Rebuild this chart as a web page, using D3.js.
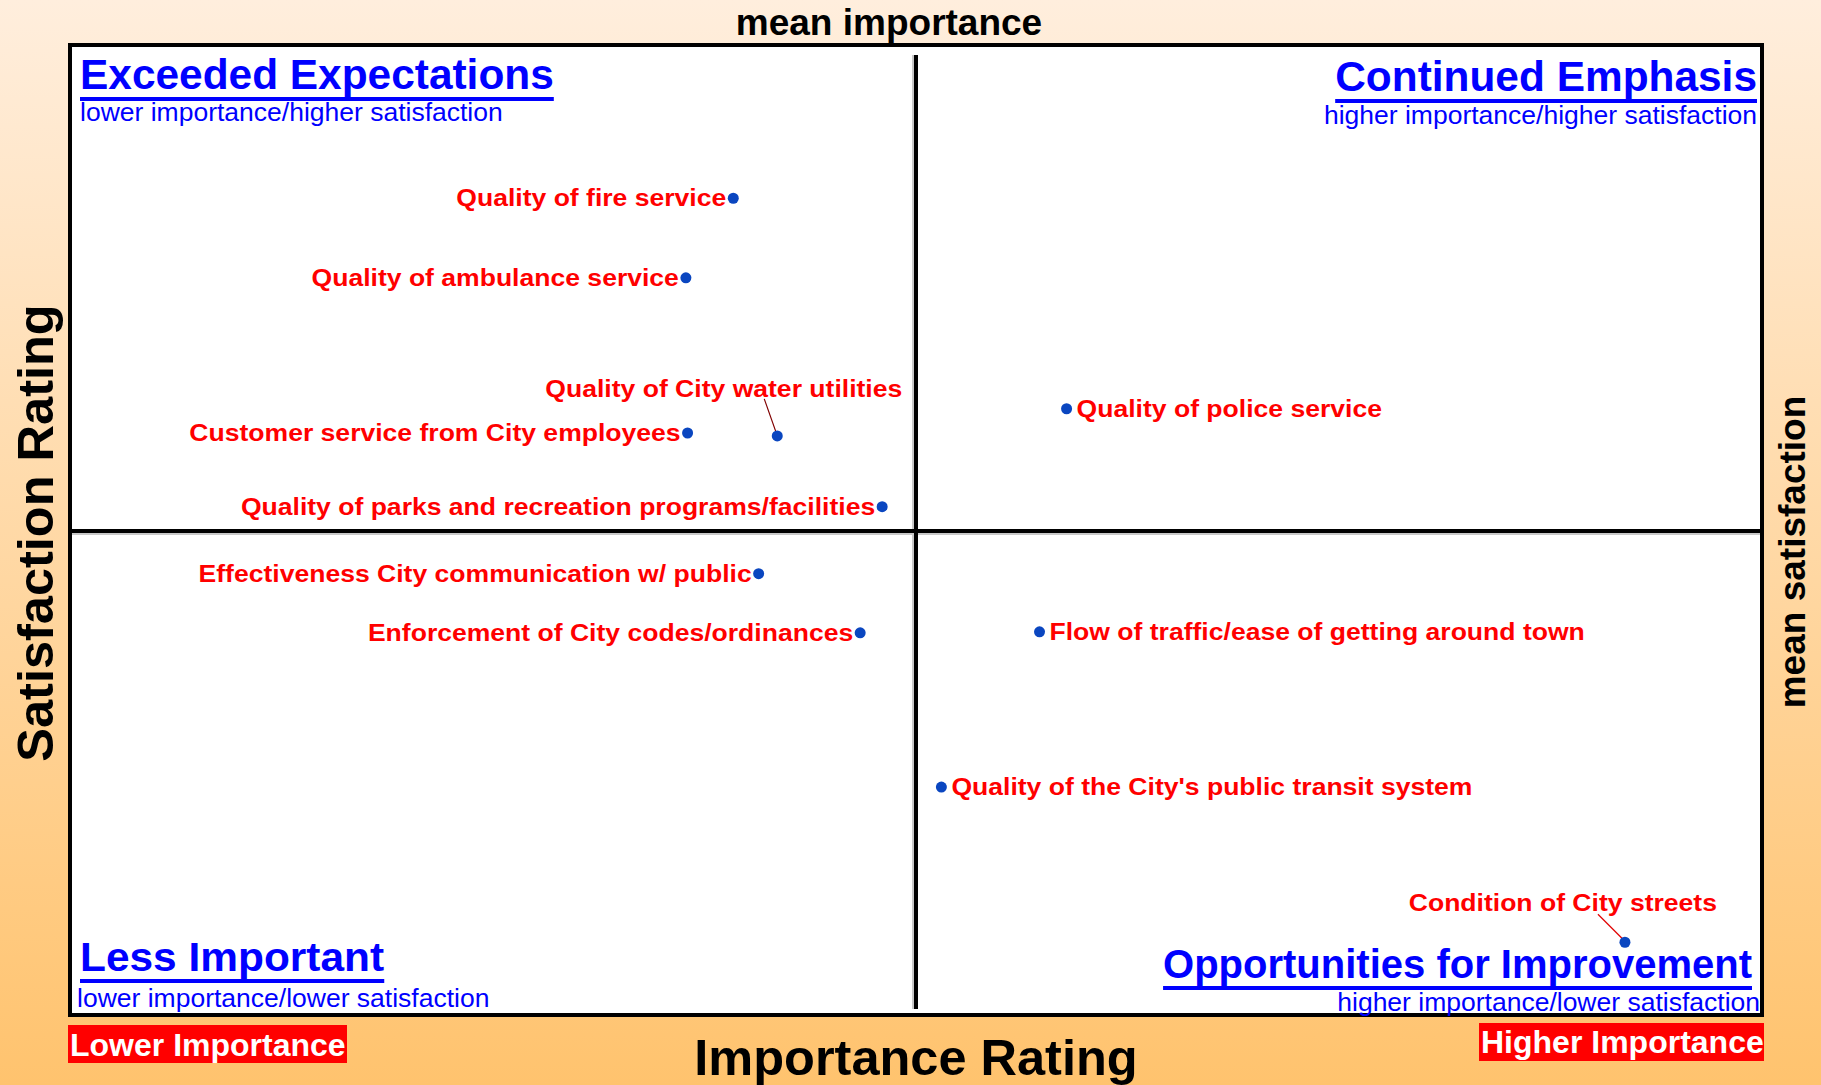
<!DOCTYPE html>
<html>
<head>
<meta charset="utf-8">
<script src="https://cdn.jsdelivr.net/npm/d3@7"></script>
<style>
  body { margin: 0; padding: 0; overflow: hidden; }
  svg { display: block; font-family: "Liberation Sans", Arial, sans-serif; }
</style>
</head>
<body>
<div id="chart"></div>
<script>
// Items and their ratings (importance %, satisfaction %)
const items = [
    "Quality of fire service",
    "Quality of ambulance service",
    "Quality of City water utilities",
    "Customer service from City employees",
    "Quality of parks and recreation programs/facilities",
    "Quality of police service",
    "Effectiveness City communication w/ public",
    "Enforcement of City codes/ordinances",
    "Flow of traffic/ease of getting around town",
    "Quality of the City's public transit system",
    "Condition of City streets",
];
const importance = [19.6, 18.2, 20.9, 18.25, 24.0, 29.45, 20.35, 23.35, 28.65, 25.75, 45.95];
const satisfaction = [92.1, 88.0, 79.85, 80.0, 76.2, 81.25, 72.75, 69.7, 69.75, 61.75, 53.75];

const meanImportance = 25;
const meanSatisfaction = 75;
const importanceDomain = [0, 50];
const satisfactionDomain = [50, 100];

const quadrantTitles = ["Exceeded Expectations", "Continued Emphasis", "Less Important", "Opportunities for Improvement"];
const quadrantSubtitles = [
    "lower importance/higher satisfaction",
    "higher importance/higher satisfaction",
    "lower importance/lower satisfaction",
    "higher importance/lower satisfaction",
];

// Layout
const width = 1821;
const height = 1085;
const box = { left: 70, right: 1762, top: 45, bottom: 1015 };

// where each label sits relative to its dot
const labelSide = {
    "Quality of police service": "right",
    "Flow of traffic/ease of getting around town": "right",
    "Quality of the City's public transit system": "right",
};
const callouts = {
    "Quality of City water utilities": { dx: 125, dy: -39, from: [-13, -37], to: [-1, -3], color: "#800000" },
    "Condition of City streets": { dx: 92, dy: -31, from: [-27, -28], to: [-2, -3], color: "#e00000" },
};

const svg = d3
    .select("#chart")
    .append("svg")
    .attr("width", width)
    .attr("height", height);

// Background gradient
const grad = svg
    .append("defs")
    .append("linearGradient")
    .attr("id", "bg")
    .attr("x1", 0).attr("y1", 0).attr("x2", 0).attr("y2", 1);
grad.append("stop").attr("offset", "0%").attr("stop-color", "#ffeedd");
grad.append("stop").attr("offset", "100%").attr("stop-color", "#ffc36e");

svg.append("rect")
    .attr("width", width)
    .attr("height", height)
    .attr("fill", "url(#bg)");

let x = d3.scaleLinear().domain(importanceDomain).range([box.left, box.right]);
let y = d3.scaleLinear().domain(satisfactionDomain).range([box.bottom, box.top]);

// Plot box
svg.append("rect")
    .attr("x", box.left)
    .attr("y", box.top)
    .attr("width", box.right - box.left)
    .attr("height", box.bottom - box.top)
    .attr("fill", "white")
    .attr("stroke", "black")
    .attr("stroke-width", 4);

// Mean lines (with a faint shadow)
const mx = x(meanImportance);
const my = y(meanSatisfaction) + 1;
svg.append("line")
    .attr("x1", mx - 3).attr("x2", mx - 3)
    .attr("y1", box.top + 10).attr("y2", box.bottom - 6)
    .attr("stroke", "#c8c8c8").attr("stroke-width", 2);
svg.append("line")
    .attr("x1", box.left + 2).attr("x2", box.right - 2)
    .attr("y1", my + 3).attr("y2", my + 3)
    .attr("stroke", "#c8c8c8").attr("stroke-width", 2);
svg.append("line")
    .attr("x1", mx).attr("x2", mx)
    .attr("y1", box.top + 10).attr("y2", box.bottom - 6)
    .attr("stroke", "black").attr("stroke-width", 4);
svg.append("line")
    .attr("x1", box.left + 2).attr("x2", box.right - 2)
    .attr("y1", my).attr("y2", my)
    .attr("stroke", "black").attr("stroke-width", 4);

// Text that is stretched horizontally, like the original
const stretchText = (parent, o) => {
    const g = parent
        .append("g")
        .attr("transform", `translate(${o.x},${o.y}) scale(${o.sx || 1},1)`);
    const t = g
        .append("text")
        .attr("text-anchor", o.anchor || "start")
        .attr("font-size", o.size)
        .attr("font-weight", o.weight || "normal")
        .attr("fill", o.fill)
        .text(o.text);
    if (o.underline) {
        const b = t.node().getBBox();
        g.append("rect")
            .attr("x", b.x)
            .attr("y", o.underline)
            .attr("width", b.width)
            .attr("height", 4)
            .attr("fill", o.fill);
    }
    return g;
};

// Quadrant headings
const titleSpots = [
    { x: 80, y: 89, sub: 121, subx: 80, anchor: "start", size: 42, sx: 1.01 },
    { x: 1757, y: 91, sub: 124, subx: 1757, anchor: "end", size: 42, sx: 1.01 },
    { x: 80, y: 971, sub: 1007, subx: 77, anchor: "start", size: 41, sx: 1.035 },
    { x: 1752, y: 978, sub: 1011, subx: 1760, anchor: "end", size: 40, sx: 1.0 },
];
quadrantTitles.forEach((t, i) => {
    const s = titleSpots[i];
    stretchText(svg, { x: s.x, y: s.y, text: t, size: s.size, weight: "bold", fill: "#0000ff", anchor: s.anchor, sx: s.sx, underline: 8 });
    stretchText(svg, { x: s.subx, y: s.sub, text: quadrantSubtitles[i], size: 26.5, fill: "#0000ff", anchor: s.anchor, sx: 1.0 });
});

// Points and labels
const points = svg.append("g");
items.forEach((name, i) => {
    const px = x(importance[i]);
    const py = y(satisfaction[i]);
    const c = callouts[name];
    const lab = { text: name, size: 23.5, weight: "bold", fill: "#ff0000", sx: 1.13 };
    if (c) {
        points.append("line")
            .attr("x1", px + c.from[0]).attr("y1", py + c.from[1])
            .attr("x2", px + c.to[0]).attr("y2", py + c.to[1])
            .attr("stroke", c.color).attr("stroke-width", 1.2);
        stretchText(points, { ...lab, x: px + c.dx, y: py + c.dy, anchor: "end" });
    } else if (labelSide[name] === "right") {
        stretchText(points, { ...lab, x: px + 10, y: py + 8, anchor: "start" });
    } else {
        stretchText(points, { ...lab, x: px - 7, y: py + 8, anchor: "end" });
    }
    points.append("circle")
        .attr("cx", px)
        .attr("cy", py)
        .attr("r", 5.5)
        .attr("fill", "#0a46c0");
});

// Axis titles
svg.append("text")
    .attr("x", mx - 27).attr("y", 35)
    .attr("text-anchor", "middle")
    .attr("font-size", 37).attr("font-weight", "bold")
    .text("mean importance");
svg.append("text")
    .attr("x", 916).attr("y", 1075)
    .attr("text-anchor", "middle")
    .attr("font-size", 50.5).attr("font-weight", "bold")
    .text("Importance Rating");
svg.append("text")
    .attr("transform", "translate(53,533) rotate(-90)")
    .attr("text-anchor", "middle")
    .attr("font-size", 50.5).attr("font-weight", "bold")
    .text("Satisfaction Rating");
svg.append("text")
    .attr("transform", "translate(1805,552) rotate(-90)")
    .attr("text-anchor", "middle")
    .attr("font-size", 37).attr("font-weight", "bold")
    .text("mean satisfaction");

// Importance end tags
const tags = [
    { text: "Lower Importance", x: 70, rx: 68, ry: 1025, w: 279, h: 38, base: 1056 },
    { text: "Higher Importance", x: 1481, rx: 1479, ry: 1023, w: 285, h: 38, base: 1053 },
];
tags.forEach((t) => {
    svg.append("rect")
        .attr("x", t.rx).attr("y", t.ry)
        .attr("width", t.w).attr("height", t.h)
        .attr("fill", "#ff0000");
    svg.append("text")
        .attr("x", t.x).attr("y", t.base)
        .attr("font-size", 32).attr("font-weight", "bold")
        .attr("fill", "white")
        .text(t.text);
});
</script>
</body>
</html>
